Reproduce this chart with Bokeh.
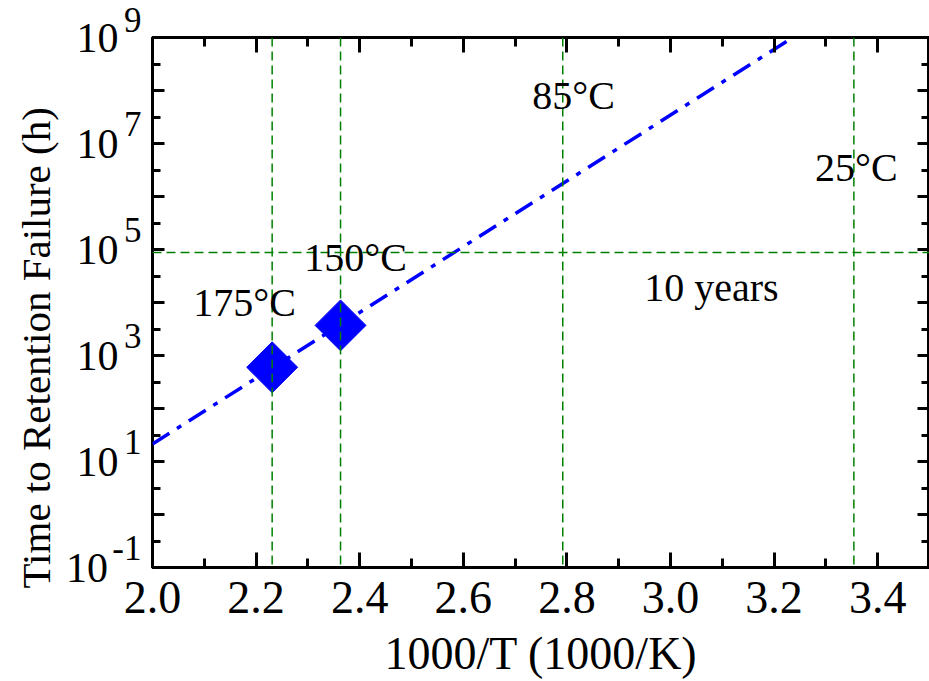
import numpy as np
from bokeh.plotting import figure
from bokeh.models import (FixedTicker, LinearAxis, LogAxis, Span, Label, Title,
                          CustomJSTickFormatter, NumeralTickFormatter)
from bokeh.embed import file_html
from bokeh.resources import INLINE

# ---------------- data ----------------
meas_temp_C = [175, 150]
meas_invT = [2.231, 2.363]          # 1000/T (1000/K)
meas_time_h = [600, 3700]           # time to retention failure (h)

fit_invT = [2.0, 3.236]             # extrapolated Arrhenius line
fit_time_h = [21.4, 1.0e9]

ref_temp_labels = ["175°C", "150°C", "85°C", "25°C"]
ref_invT = [2.231, 2.363, 2.792, 3.354]
ten_years_h = 87600
ten_years_label = "10 years"

x_major = [2.0, 2.2, 2.4, 2.6, 2.8, 3.0, 3.2, 3.4]
x_minor = [2.1, 2.3, 2.5, 2.7, 2.9, 3.1, 3.3, 3.5]
x_tick_labels = ["2.0", "2.2", "2.4", "2.6", "2.8", "3.0", "3.2", "3.4"]
y_decades = list(range(-1, 10))
y_half_decades = [k + 0.5 for k in range(-1, 9)]
y_label_exponents = [-1, 1, 3, 5, 7, 9]

x_title = "1000/T (1000/K)"
y_title = "Time to Retention Failure (h)"

FONT = "Liberation Serif"
BLUE = "#0000FF"
GREEN = "#008000"

# exponent printed on a raised line (second, empty line pushes it up)
exp_texts = [str(k) + "\n\u00a0" for k in y_label_exponents]
base_texts = ["10" + ("\u00a0" if k < 0 else "") for k in y_label_exponents]

p = figure(width=929, height=681, x_range=(2.0, 3.5), y_range=(1e-1, 1e9),
           y_axis_type="log", output_backend="svg", toolbar_location=None,
           min_border_left=152, min_border_top=37, min_border_right=0,
           min_border_bottom=112, x_axis_location=None, y_axis_location=None)
p.grid.visible = False
p.outline_line_color = "black"
p.outline_line_width = 3
p.background_fill_color = "white"
p.border_fill_color = "white"

xt = FixedTicker(ticks=x_major, minor_ticks=x_minor)
yt = FixedTicker(ticks=[10.0 ** k for k in y_decades],
                 minor_ticks=[10.0 ** h for h in y_half_decades])
y_lab_ticker = FixedTicker(ticks=[10.0 ** k for k in y_label_exponents], minor_ticks=[])
blank = CustomJSTickFormatter(code="return ''")


def style_ticks(ax, major_in, minor_in):
    ax.axis_line_color = None
    ax.major_tick_in = major_in
    ax.major_tick_out = 0
    ax.minor_tick_in = minor_in
    ax.minor_tick_out = 0
    ax.major_tick_line_width = 3
    ax.minor_tick_line_width = 3
    ax.major_tick_line_color = "black"
    ax.minor_tick_line_color = "black"


def hide_labels(ax):
    ax.formatter = blank
    ax.major_label_text_font_size = "0px"
    ax.major_label_standoff = 0


lab_code = """
    const e = Math.round(Math.log10(tick));
    if (Math.abs(Math.log10(tick) - e) > 1e-6) return '';
    const i = exps.indexOf(e);
    return i >= 0 ? texts[i] : '';
"""

# bottom axis with labels and title
xb = LinearAxis(ticker=xt, formatter=NumeralTickFormatter(format="0.0"))
xb.major_label_overrides = dict(zip(x_major, x_tick_labels))
style_ticks(xb, 15, 9)
xb.major_label_text_font = FONT
xb.major_label_text_font_size = "46px"
xb.major_label_text_color = "black"
xb.major_label_standoff = 14
xb.axis_label = x_title
xb.axis_label_text_font = FONT
xb.axis_label_text_font_size = "46px"
xb.axis_label_text_font_style = "normal"
xb.axis_label_text_color = "black"
xb.axis_label_standoff = 12
p.add_layout(xb, "below")

xa = LinearAxis(ticker=xt)
style_ticks(xa, 15, 9)
hide_labels(xa)
p.add_layout(xa, "above")

# left, innermost: ticks + exponent labels (raised by an empty second line)
ye = LogAxis(ticker=yt,
             formatter=CustomJSTickFormatter(args=dict(exps=y_label_exponents, texts=exp_texts),
                                             code=lab_code))
style_ticks(ye, 12, 8)
ye.major_label_text_font = FONT
ye.major_label_text_color = "black"
ye.major_label_text_font_size = "35px"
ye.major_label_text_line_height = 1.0
ye.major_label_standoff = 11
p.add_layout(ye, "left")

# left: base "10" labels
yb = LogAxis(ticker=y_lab_ticker,
             formatter=CustomJSTickFormatter(args=dict(exps=y_label_exponents, texts=base_texts),
                                             code=lab_code))
yb.axis_line_color = None
yb.major_tick_line_color = None
yb.minor_tick_line_color = None
yb.major_tick_in = 0
yb.major_tick_out = 0
yb.minor_tick_in = 0
yb.minor_tick_out = 0
yb.major_label_text_font = FONT
yb.major_label_text_color = "black"
yb.major_label_text_font_size = "42px"
yb.major_label_standoff = -9
p.add_layout(yb, "left")

# y title
p.add_layout(Title(text=y_title, align="left", offset=-21, text_font=FONT,
                   text_font_size="41px", text_font_style="normal",
                   text_color="black", standoff=8), "left")

yr = LogAxis(ticker=yt)
style_ticks(yr, 12, 8)
hide_labels(yr)
p.add_layout(yr, "right")

# fit line and measured points
p.line(fit_invT, fit_time_h, line_color=BLUE, line_width=3.5, line_dash="20 9 5 9")
p.scatter(meas_invT, meas_time_h, marker="square", angle=np.pi / 4, size=36,
          fill_color=BLUE, line_color=BLUE)

# reference lines
for xv in ref_invT:
    p.add_layout(Span(location=xv, dimension="height", line_color=GREEN,
                      line_width=1.5, line_dash="9 5"))
p.add_layout(Span(location=ten_years_h, dimension="width", line_color=GREEN,
                  line_width=1.5, line_dash="9 5"))

# annotations
ann_pos = [(2.178, 1.0e4), (2.392, 7.2e4), (2.813, 8.1e7), (3.359, 3.55e6)]
for txt, (ax_, ay_) in zip(ref_temp_labels, ann_pos):
    p.add_layout(Label(x=ax_, y=ay_, text=txt, text_align="center",
                       text_baseline="alphabetic", text_font=FONT,
                       text_font_size="40px", text_color="black"))
p.add_layout(Label(x=3.079, y=1.9e4, text=ten_years_label, text_align="center",
                   text_baseline="alphabetic", text_font=FONT,
                   text_font_size="40px", text_color="black"))

open("out.html", "w").write(file_html(p, INLINE))
